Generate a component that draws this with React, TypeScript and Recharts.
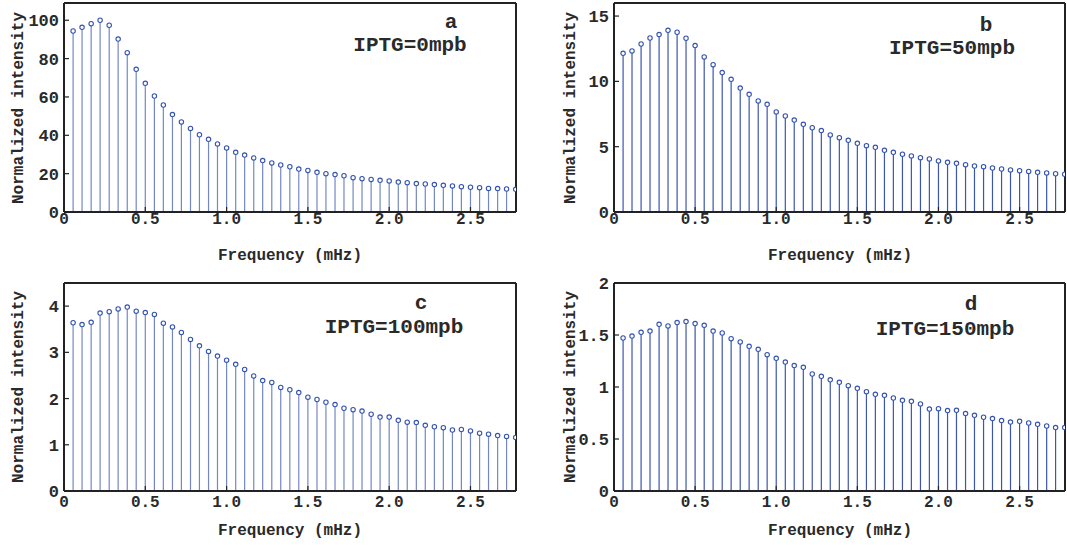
import React from "react";
import { ComposedChart, XAxis, YAxis, Scatter, ReferenceLine } from "recharts";

const FONT = "'Courier New', 'Liberation Mono', monospace";

// frequency of each stem (mHz)
const freqs = [
  0.056, 0.111, 0.167, 0.222, 0.278, 0.333, 0.389, 0.444, 0.5, 0.556,
  0.611, 0.667, 0.722, 0.778, 0.833, 0.889, 0.944, 1.0, 1.056, 1.111,
  1.167, 1.222, 1.278, 1.333, 1.389, 1.444, 1.5, 1.556, 1.611, 1.667,
  1.722, 1.778, 1.833, 1.889, 1.944, 2.0, 2.056, 2.111, 2.167, 2.222,
  2.278, 2.333, 2.389, 2.444, 2.5, 2.556, 2.611, 2.667, 2.722, 2.778,
];

const iptg0 = [
  94.4, 96.3, 98.2, 100, 97.4, 90.2, 83.1, 74.4, 67.1, 60.5,
  55.8, 50.8, 47.0, 43.6, 40.3, 37.9, 35.5, 33.4, 31.1, 29.7,
  28.2, 26.8, 25.6, 24.5, 23.6, 22.4, 21.7, 20.7, 20.0, 19.5,
  18.9, 17.9, 17.4, 17.0, 16.5, 16.2, 15.6, 15.3, 14.8, 14.6,
  14.3, 13.9, 13.6, 13.2, 12.9, 12.7, 12.3, 12.2, 12.0, 11.8,
];

const iptg50 = [
  12.15, 12.33, 12.86, 13.32, 13.58, 13.91, 13.76, 13.3, 12.74, 11.87,
  11.28, 10.67, 10.16, 9.49, 9.01, 8.5, 8.24, 7.66, 7.35, 7.04,
  6.71, 6.45, 6.23, 5.9, 5.69, 5.49, 5.26, 5.08, 4.95, 4.72,
  4.57, 4.42, 4.29, 4.16, 4.06, 3.91, 3.8, 3.73, 3.62, 3.52,
  3.47, 3.37, 3.29, 3.22, 3.16, 3.11, 3.04, 2.99, 2.93, 2.89,
];

const iptg100 = [
  3.64, 3.6, 3.65, 3.85, 3.88, 3.94, 3.98, 3.89, 3.86, 3.82,
  3.63, 3.55, 3.43, 3.28, 3.14, 3.02, 2.92, 2.83, 2.74, 2.63,
  2.49, 2.39, 2.35, 2.24, 2.19, 2.13, 2.03, 1.98, 1.92, 1.87,
  1.79, 1.76, 1.73, 1.66, 1.6, 1.6, 1.53, 1.49, 1.48, 1.42,
  1.39, 1.37, 1.32, 1.33, 1.3, 1.25, 1.23, 1.2, 1.18, 1.16,
];

const iptg150 = [
  1.471, 1.49, 1.526, 1.538, 1.603, 1.587, 1.619, 1.629, 1.61, 1.593,
  1.538, 1.519, 1.465, 1.433, 1.391, 1.362, 1.311, 1.276, 1.24, 1.206,
  1.189, 1.125, 1.103, 1.069, 1.045, 1.013, 0.987, 0.955, 0.93, 0.92,
  0.894, 0.872, 0.862, 0.837, 0.788, 0.792, 0.773, 0.776, 0.744, 0.728,
  0.709, 0.696, 0.677, 0.663, 0.67, 0.654, 0.641, 0.625, 0.61, 0.61,
];

const xTicks = [0, 0.5, 1, 1.5, 2, 2.5];
const X_MAX = 2.78;
const TOP_PAD = 10;

const fmtX = (v: number) => (v === 0 ? "0" : v.toFixed(1));

const Marker = (p: any) => (
  <circle cx={p.cx} cy={p.cy} r={2.2} fill="#ffffff" stroke="#3453b3" strokeWidth={1.1} />
);

type PanelProps = {
  values: number[];
  yMax: number;
  yTicks: number[];
  stemColor: string;
  left: number;
  top: number;
  width: number;
  height: number;
  xTickMargin: number;
};

// left/top are the plot-area corner; chart box extends 60px left and TOP_PAD up
const Panel = ({ values, yMax, yTicks, stemColor, left, top, width, height, xTickMargin }: PanelProps) => {
  const rows = freqs.map((f, i) => ({ f, v: values[i] }))
  const border = { stroke: "#222", strokeWidth: 2 }
  const tickLine = { stroke: "#222", strokeWidth: 1.2 }
  return (
    <div style={{ position: "absolute", left: left - 60, top: top - TOP_PAD }}>
      <ComposedChart
        width={width + 62}
        height={height + TOP_PAD + 28}
        data={rows}
        margin={{ top: TOP_PAD, right: 2, left: 0, bottom: 0 }}
      >
        <XAxis
          dataKey="f"
          type="number"
          domain={[0, X_MAX]}
          ticks={xTicks}
          interval={0}
          allowDataOverflow
          tickFormatter={fmtX}
          height={28}
          tickSize={-5}
          tickMargin={xTickMargin}
          axisLine={border}
          tickLine={tickLine}
          tick={{ fill: "#2a2a2a", fontSize: 16, fontFamily: FONT, fontWeight: 700 }}
        />
        <XAxis
          xAxisId="top"
          orientation="top"
          mirror
          type="number"
          domain={[0, X_MAX]}
          ticks={xTicks}
          interval={0}
          allowDataOverflow
          tick={false}
          tickSize={5}
          axisLine={border}
          tickLine={tickLine}
        />
        <YAxis
          dataKey="v"
          type="number"
          domain={[0, yMax]}
          ticks={yTicks}
          interval={0}
          allowDataOverflow
          width={60}
          tickSize={-5}
          tickMargin={10}
          axisLine={border}
          tickLine={tickLine}
          tick={{ fill: "#2a2a2a", fontSize: 17, fontFamily: FONT, fontWeight: 700 }}
        />
        <YAxis
          yAxisId="right"
          orientation="right"
          mirror
          type="number"
          domain={[0, yMax]}
          ticks={yTicks}
          interval={0}
          allowDataOverflow
          tick={false}
          tickSize={5}
          axisLine={border}
          tickLine={tickLine}
        />
        {rows.map((r) => (
          <ReferenceLine
            key={r.f}
            segment={[
              { x: r.f, y: 0 },
              { x: r.f, y: r.v },
            ]}
            stroke={stemColor}
            strokeWidth={1.2}
            ifOverflow="visible"
          />
        ))}
        <Scatter data={rows} dataKey="v" shape={Marker} isAnimationActive={false} />
      </ComposedChart>
    </div>
  )
}

type Note = { letter: string; lx: number; ly: number; text: string; tx: number; ty: number };

const notes: Note[] = [
  { letter: "a", lx: 451, ly: 28, text: "IPTG=0mpb", tx: 410, ty: 51 },
  { letter: "b", lx: 986, ly: 31, text: "IPTG=50mpb", tx: 952, ty: 54 },
  { letter: "c", lx: 421, ly: 309, text: "IPTG=100mpb", tx: 394, ty: 333 },
  { letter: "d", lx: 971, ly: 310, text: "IPTG=150mpb", tx: 945, ty: 335 },
]

const yTitles = [
  { x: 23, y: 108 },
  { x: 575, y: 108 },
  { x: 23, y: 387 },
  { x: 575, y: 387 },
]

const xTitles = [
  { x: 290, y: 260 },
  { x: 840, y: 260 },
  { x: 290, y: 535 },
  { x: 840, y: 535 },
]

export default function App() {
  return (
    <div style={{ position: "absolute", left: 0, top: 0, width: 1067, height: 545, background: "#fff", overflow: "hidden" }}>
      <Panel values={iptg0} yMax={109} yTicks={[0, 20, 40, 60, 80, 100]} stemColor="#7387c6"
        left={64} top={3} width={452} height={209} xTickMargin={6} />
      <Panel values={iptg50} yMax={16} yTicks={[0, 5, 10, 15]} stemColor="#3d55ad"
        left={614} top={3} width={451} height={209} xTickMargin={6} />
      <Panel values={iptg100} yMax={4.5} yTicks={[0, 1, 2, 3, 4]} stemColor="#7387c6"
        left={64} top={283} width={452} height={208} xTickMargin={10} />
      <Panel values={iptg150} yMax={2} yTicks={[0, 0.5, 1, 1.5, 2]} stemColor="#3d55ad"
        left={614} top={283} width={451} height={208} xTickMargin={10} />
      <svg width={1067} height={545} style={{ position: "absolute", left: 0, top: 0, pointerEvents: "none" }}>
        <g fontFamily={FONT} fontWeight={700} fill="#2a2a2a">
          {notes.map((n) => (
            <g key={n.letter} fontSize={21} textAnchor="middle">
              <text x={n.lx} y={n.ly}>{n.letter}</text>
              <text x={n.tx} y={n.ty}>{n.text}</text>
            </g>
          ))}
          {yTitles.map((t, i) => (
            <text key={"y" + i} x={t.x} y={t.y} fontSize={16} textAnchor="middle"
              transform={`rotate(-90 ${t.x} ${t.y})`}>
              Normalized intensity
            </text>
          ))}
          {xTitles.map((t, i) => (
            <text key={"x" + i} x={t.x} y={t.y} fontSize={16} textAnchor="middle">
              Frequency (mHz)
            </text>
          ))}
        </g>
      </svg>
    </div>
  )
}
